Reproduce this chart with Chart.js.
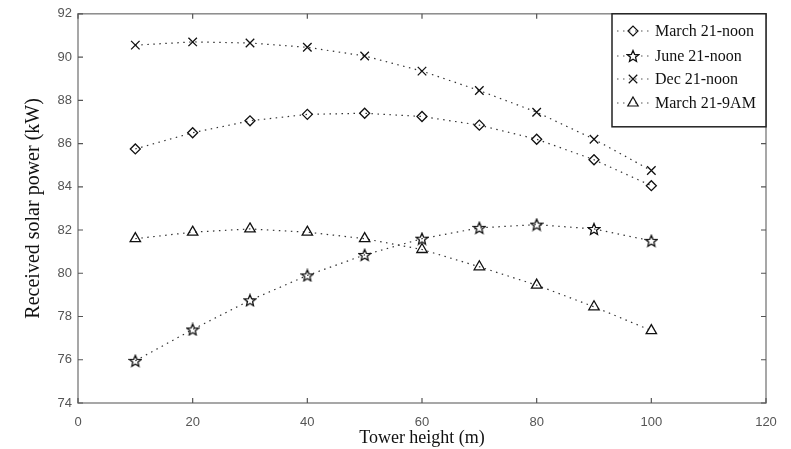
<!DOCTYPE html>
<html>
<head>
<meta charset="utf-8">
<script src="https://cdn.jsdelivr.net/npm/chart.js@4"></script>
<style>
  html, body { margin: 0; padding: 0; background: #fff; }
  #wrap { width: 791px; height: 449px; }
</style>
</head>
<body>
<div id="wrap"><canvas id="chart" width="791" height="449"></canvas></div>
<script>
const heights = [10, 20, 30, 40, 50, 60, 70, 80, 90, 100];

const march21Noon = [85.75, 86.5, 87.05, 87.35, 87.4, 87.25, 86.85, 86.2, 85.25, 84.05];
const june21Noon  = [75.95, 77.4, 78.75, 79.9, 80.85, 81.6, 82.1, 82.25, 82.05, 81.5];
const dec21Noon   = [90.55, 90.7, 90.65, 90.45, 90.05, 89.35, 88.45, 87.45, 86.2, 84.75];
const march21_9am = [81.6, 81.9, 82.05, 81.9, 81.6, 81.1, 80.3, 79.45, 78.45, 77.35];

const seriesNames = ['March 21-noon', 'June 21-noon', 'Dec 21-noon', 'March 21-9AM'];

// five point star marker, drawn once on a small canvas
function makeStar(size) {
    const c = document.createElement('canvas');
    c.width = size; c.height = size;
    const ctx = c.getContext('2d');
    const cx = size / 2, cy = size / 2 + 0.5, R = size / 2 - 1, r = R * 0.45;
    ctx.beginPath();
    for (let i = 0; i < 10; i++) {
        const a = -Math.PI / 2 + i * Math.PI / 5;
        const rad = i % 2 === 0 ? R : r;
        const x = cx + rad * Math.cos(a), y = cy + rad * Math.sin(a);
        if (i === 0) ctx.moveTo(x, y); else ctx.lineTo(x, y);
    }
    ctx.closePath();
    ctx.lineWidth = 1.3;
    ctx.strokeStyle = '#111';
    ctx.stroke();
    return c;
}
const starImg = makeStar(14);

const styles = [
    {pointStyle: 'rectRot', radius: 5},
    {pointStyle: starImg, radius: 7},
    {pointStyle: 'crossRot', radius: 6},
    {pointStyle: 'triangle', radius: 6}
];

const seriesData = [march21Noon, june21Noon, dec21Noon, march21_9am];

const datasets = seriesData.map((vals, i) => ({
    label: seriesNames[i],
    data: vals.map((v, j) => ({x: heights[j], y: v})),
    borderColor: '#333',
    borderWidth: 1.2,
    borderDash: [1.5, 4.5],
    backgroundColor: 'rgba(0,0,0,0)',
    pointStyle: styles[i].pointStyle,
    pointRadius: styles[i].radius,
    pointBorderColor: '#111',
    pointBorderWidth: 1.3,
    pointBackgroundColor: 'rgba(0,0,0,0)',
    tension: 0
}));

// box around the plot, inward ticks on all four sides, and the legend
const framePlugin = {
    id: 'frame',
    afterDraw(chart) {
        const {ctx, chartArea: a, scales} = chart;
        ctx.save();
        ctx.strokeStyle = '#8a8a8a';
        ctx.lineWidth = 1.5;
        ctx.strokeRect(a.left, a.top, a.right - a.left, a.bottom - a.top);

        ctx.lineWidth = 1.2;
        ctx.strokeStyle = '#555';
        const tl = 5;
        scales.x.ticks.forEach(t => {
            const px = scales.x.getPixelForValue(t.value);
            ctx.beginPath();
            ctx.moveTo(px, a.bottom); ctx.lineTo(px, a.bottom - tl);
            ctx.moveTo(px, a.top); ctx.lineTo(px, a.top + tl);
            ctx.stroke();
        });
        scales.y.ticks.forEach(t => {
            const py = scales.y.getPixelForValue(t.value);
            ctx.beginPath();
            ctx.moveTo(a.left, py); ctx.lineTo(a.left + tl, py);
            ctx.moveTo(a.right, py); ctx.lineTo(a.right - tl, py);
            ctx.stroke();
        });

        // legend box
        const bx = 612, by = a.top, bw = a.right - 612, bh = 113;
        ctx.fillStyle = '#fff';
        ctx.fillRect(bx, by, bw, bh);
        ctx.strokeStyle = '#222';
        ctx.lineWidth = 1.5;
        ctx.strokeRect(bx, by, bw, bh);

        const rowY = [31, 56, 79, 103];
        chart.data.datasets.forEach((ds, i) => {
            const y = rowY[i];
            ctx.save();
            ctx.strokeStyle = '#555';
            ctx.lineWidth = 1.2;
            ctx.setLineDash([1.5, 4.5]);
            ctx.beginPath();
            ctx.moveTo(617, y); ctx.lineTo(651, y);
            ctx.stroke();
            ctx.restore();
            ctx.strokeStyle = '#111';
            ctx.fillStyle = 'rgba(0,0,0,0)';
            ctx.lineWidth = 1.2;
            Chart.helpers.drawPoint(ctx, {
                pointStyle: ds.pointStyle,
                radius: ds.pointRadius,
                rotation: 0,
                borderWidth: 1.2
            }, 633, y);
            ctx.fillStyle = '#111';
            ctx.font = '16px "Liberation Serif", "DejaVu Serif", serif';
            ctx.textBaseline = 'middle';
            ctx.textAlign = 'left';
            ctx.fillText(ds.label, 655, y + 1);
        });
        ctx.restore();
    }
};

new Chart(document.getElementById('chart'), {
    type: 'line',
    data: {datasets: datasets},
    options: {
        responsive: false,
        animation: false,
        layout: {padding: {top: 12, right: 25, left: 0, bottom: 0}},
        plugins: {
            legend: {display: false},
            tooltip: {enabled: false}
        },
        scales: {
            x: {
                type: 'linear',
                min: 0,
                max: 120,
                ticks: {
                    stepSize: 20,
                    color: '#555',
                    padding: 12,
                    font: {family: '"Liberation Sans", sans-serif', size: 13}
                },
                grid: {display: false, drawTicks: false},
                border: {display: false},
                title: {
                    display: true,
                    text: 'Tower height (m)',
                    color: '#111',
                    padding: {top: 0, bottom: 0},
                    font: {family: '"Liberation Serif", serif', size: 18}
                },
                afterFit(scale) { scale.height = 46; }
            },
            y: {
                min: 74,
                max: 92,
                ticks: {
                    stepSize: 2,
                    color: '#555',
                    padding: 6,
                    font: {family: '"Liberation Sans", sans-serif', size: 13}
                },
                grid: {display: false, drawTicks: false},
                border: {display: false},
                title: {
                    display: true,
                    text: 'Received solar power (kW)',
                    color: '#111',
                    padding: {top: 22, bottom: 0},
                    font: {family: '"Liberation Serif", serif', size: 20}
                },
                afterFit(scale) { scale.width = 78; }
            }
        }
    },
    plugins: [framePlugin]
});
</script>
</body>
</html>
